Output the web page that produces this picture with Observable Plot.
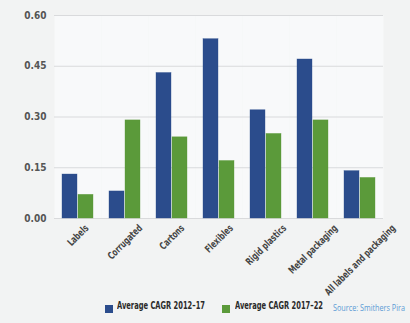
<!DOCTYPE html>
<html><head><meta charset="utf-8">
<script src="https://cdn.jsdelivr.net/npm/d3@7"></script>
<script src="https://cdn.jsdelivr.net/npm/@observablehq/plot@0.6"></script>
<style>
html,body{margin:0;padding:0;background:#f2f3f3;}
body{width:410px;height:323px;overflow:hidden;font-family:"DejaVu Sans Condensed",sans-serif;}
#legend{position:relative;height:27px;width:410px;white-space:nowrap;}
.sw{position:absolute;top:9px;width:8px;height:8px;}
.lt{position:absolute;top:3px;font-size:11px;color:#2a2a2a;font-weight:bold;font-family:"DejaVu Sans Condensed",sans-serif;transform-origin:left center;}
.src{position:absolute;top:6px;left:333px;font-size:8.5px;color:#5b9bd5;font-family:"Open Sans",sans-serif;transform-origin:left center;}
</style></head>
<body>
<div id="chart"></div>
<div id="legend">
  <div class="sw" style="left:105px;background:#2b4c8c"></div><div class="lt" data-w="88" style="left:117px">Average CAGR 2012–17</div>
  <div class="sw" style="left:222px;background:#5b9a3a"></div><div class="lt" data-w="88" style="left:235px">Average CAGR 2017–22</div>
  <div class="src" data-w="72">Source: Smithers Pira</div>
</div>
<script>
const categories = ["Labels","Corrugated","Cartons","Flexibles","Rigid plastics","Metal packaging","All labels and packaging"];
const series = ["Average CAGR 2012–17","Average CAGR 2017–22"];
const cagr2012_17 = [0.13,0.08,0.43,0.53,0.32,0.47,0.14];
const cagr2017_22 = [0.07,0.29,0.24,0.17,0.25,0.29,0.12];
const yTicks = [0,0.15,0.30,0.45,0.60];
const colors = ["#2b4c8c","#5b9a3a"];

const data = [];
categories.forEach((c,i)=>{
  data.push({cat:c, s:series[0], v:cagr2012_17[i]});
  data.push({cat:c, s:series[1], v:cagr2017_22[i]});
});

const font = '"DejaVu Sans Condensed","Liberation Sans Narrow",Roboto,sans-serif';
const chart = Plot.plot({
  width:410, height:296,
  marginTop:15, marginBottom:78, marginLeft:53, marginRight:27,
  style:{background:"transparent", fontFamily:font, overflow:"visible"},
  fx:{domain:categories, padding:0, label:null, axis:null},
  x:{domain:series, paddingInner:0.05, paddingOuter:0.435, axis:null},
  y:{domain:[0,0.6], ticks:yTicks, label:null},
  color:{domain:series, range:colors},
  marks:[
    Plot.frame({fill:"#f8f9fa", stroke:null}),
    Plot.gridY(yTicks, {stroke:"#d9dadc", strokeOpacity:1}),
    Plot.axisY(yTicks, {tickSize:0, tickPadding:8, tickFormat:d3.format(".2f"), fontSize:10, fill:"#555", fontWeight:"bold"}),
    Plot.barY(data, {fx:"cat", x:"s", y:"v", fill:"s", stroke:"s", strokeOpacity:0.6, strokeWidth:0.6}),
    Plot.axisFx({anchor:"bottom", tickSize:0, tickRotate:-45, tickPadding:8, fontSize:10, fill:"#444", label:null, fontWeight:"bold"})
  ]
});
document.getElementById("chart").appendChild(chart);
// condensed, Excel-style placement: middle of each rotated label sits under its tick
const squeeze = 0.77;
chart.querySelectorAll('[aria-label="fx-axis tick label"] text').forEach(t=>{
  const L = t.getComputedTextLength() * squeeze;
  const tr = t.getAttribute("transform") || "";
  t.setAttribute("transform", `translate(${L*0.3536},0) ${tr} scale(${squeeze},1)`);
});
// fit legend texts to the condensed widths of the reference
document.querySelectorAll("#legend [data-w]").forEach(el=>{
  const w = el.getBoundingClientRect().width;
  el.style.transform = `scaleX(${(+el.dataset.w)/w})`;
});
</script>
</body></html>
